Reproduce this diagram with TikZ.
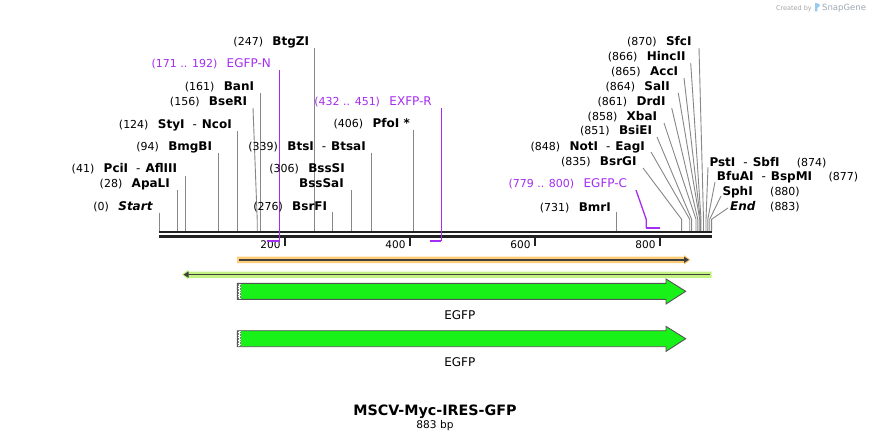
\documentclass[tikz,border=0pt]{standalone}
\usepackage{fontspec}
\setmainfont{DejaVu Sans}
\usetikzlibrary{arrows.meta}
\definecolor{purp}{RGB}{165,45,240}
\definecolor{seqc}{RGB}{34,34,34}
\definecolor{sitec}{RGB}{135,135,135}
\definecolor{orband}{RGB}{255,204,120}
\definecolor{grband}{RGB}{196,242,130}
\definecolor{featline}{RGB}{64,64,64}
\definecolor{egfpc}{RGB}{24,242,24}
\definecolor{egfpd}{RGB}{85,85,85}
\definecolor{sgblue}{RGB}{150,200,240}
\definecolor{sggray}{RGB}{160,168,180}
\newcommand\dsh{\hspace{8pt}{\mdseries -}\hspace{5pt}}
\tikzset{
  num/.style={font=\fontsize{11}{13}\selectfont, inner sep=0pt},
  nm/.style={font=\fontsize{12}{14}\selectfont\bfseries, inner sep=0pt},
  pnm/.style={font=\fontsize{12}{14}\selectfont, text=purp, inner sep=0pt},
  pnum/.style={num, text=purp},
  ticklab/.style={font=\fontsize{10.5}{12}\selectfont, inner sep=0pt},
  siteln/.style={draw=sitec, line width=0.9pt},
  primln/.style={draw=purp, line width=1.3pt},
  primbar/.style={draw=purp, line width=2pt},
  seqln/.style={draw=seqc},
  featarrow/.style={draw=egfpd, fill=egfpc, line width=0.9pt},
}
\newcommand\lablft[5]{%
  \node[nm, anchor=base east] (#1) at (#2,#3) {#5};
  \node[num, anchor=base east] (#1n) at ([xshift=-9pt]#1.base west) {#4};}
\newcommand\labprim[5]{%
  \node[pnm, anchor=base east] (#1) at (#2,#3) {#5};
  \node[pnum, anchor=base east] (#1n) at ([xshift=-9pt]#1.base west) {#4};}
\newcommand\labrt[6]{%
  \node[nm, anchor=base west] (#1) at (#2,#3) {#4};
  \node[num, anchor=base west] (#1n) at (#5,#3) {#6};}
% vertical site line: id, x, top y
\newcommand\vsite[3]{%
  \coordinate (#1t) at (#2,#3);
  \coordinate (#1s) at (#2,231.2);
  \draw[siteln] (#1t) -- (#1s);}
% bent site line: id, top x, top y, site x
\newcommand\bsite[4]{%
  \coordinate (#1t) at (#2,#3);
  \coordinate (#1b) at (#4,219.3);
  \coordinate (#1s) at (#4,231.2);
  \draw[siteln] (#1t) -- (#1b) -- (#1s);}
\begin{document}
\begin{tikzpicture}[x=1pt,y=-1pt]
\useasboundingbox (0,0) rectangle (872,441);
\fill[white] (0,0) rectangle (872,441);

% ---------- site lines ----------
\vsite{start}{159.7}{212.5}
\vsite{apa}{177.2}{190}
\vsite{pci}{185.3}{175.5}
\vsite{bmg}{218.5}{153}
\vsite{sty}{237.2}{131}
\bsite{bse}{253}{108}{257.2}
\vsite{ban}{260.3}{93}
\vsite{btg}{314.1}{48}
\vsite{bsr}{332.2}{212}
\vsite{bss}{351.0}{190}
\vsite{bts}{371.6}{153}
\vsite{pfo}{413.5}{130}
\vsite{bmr}{616.6}{212}
\bsite{bsrg}{643}{168}{681.6}
\bsite{not}{651}{152}{689.7}
\bsite{bsie}{657}{137}{691.6}
\bsite{xba}{664}{123}{696.0}
\bsite{drd}{671.7}{108}{697.8}
\bsite{sal}{678.3}{93}{699.7}
\bsite{acc}{684}{78}{700.3}
\bsite{hinc}{690.7}{63}{701.0}
\bsite{sfc}{699}{48}{703.5}
\bsite{pst}{708}{167}{706.0}
\bsite{bfu}{715}{182}{707.8}
\bsite{sph}{721}{196}{709.7}
\bsite{endl}{728}{208}{711.6}

% ---------- sequence line ----------
\coordinate (seqL) at (159,0);
\coordinate (seqR) at (712,0);
\draw[seqln, line width=2.4pt] (seqL |- 0,232.2) -- (seqR |- 0,232.2);
\draw[seqln, line width=2.6pt] (seqL |- 0,236.4) -- (seqR |- 0,236.4);
\foreach \v/\x in {200/284.7,400/409.7,600/534.7,800/659.7}{
  \draw[seqln, line width=2pt] (\x,237) -- (\x,245.5);
  \node[ticklab, anchor=base east] (tk\v) at ({\x-4},248.5) {\v};
}

% ---------- primers ----------
\coordinate (pNt) at (279.5,70);
\coordinate (pNb) at (279.5,240.6);
\draw[primln] (pNt) -- (pNb);
\draw[primbar] (266.6,240.6) -- (pNb);
\coordinate (pRt) at (441.4,108);
\coordinate (pRb) at (441.4,240.6);
\draw[primln] (pRt) -- (pRb);
\draw[primbar] (429.7,240.6) -- (pRb);
\coordinate (pCt) at (636,190);
\coordinate (pCm) at (646.2,219.3);
\coordinate (pCb) at (646.2,227.8);
\draw[primln] (pCt) -- (pCm) -- (pCb);
\draw[primbar] (pCb) -- (659.7,227.8);

% ---------- labels ----------
\lablft{startL}{152.7}{210.7}{(0)}{\itshape Start}
\lablft{apaL}{170}{187.7}{(28)}{ApaLI}
\lablft{pciL}{177.3}{172.7}{(41)}{PciI\dsh AflIII}
\lablft{bmgL}{212.3}{150.7}{(94)}{BmgBI}
\lablft{styL}{232}{128.3}{(124)}{StyI\dsh NcoI}
\lablft{bseL}{247.3}{105.7}{(156)}{BseRI}
\lablft{banL}{254.3}{91}{(161)}{BanI}
\lablft{btgL}{309.3}{46}{(247)}{BtgZI}
\lablft{pfoL}{410}{127.3}{(406)}{PfoI *}
\lablft{btsL}{366}{150.7}{(339)}{BtsI\dsh BtsaI}
\lablft{bssL}{345}{172.7}{(306)}{BssSI}
\node[nm, anchor=base east] (bssaL) at (344,187.7) {BssSaI};
\lablft{bsrL}{327.3}{210}{(276)}{BsrFI}
\lablft{bmrL}{611}{211}{(731)}{BmrI}
\lablft{bsrgL}{636.7}{165}{(835)}{BsrGI}
\lablft{notL}{645}{150}{(848)}{NotI\dsh EagI}
\lablft{bsieL}{652.3}{135}{(851)}{BsiEI}
\lablft{xbaL}{657.3}{120.7}{(858)}{XbaI}
\lablft{drdL}{665.7}{105.7}{(861)}{DrdI}
\lablft{salL}{670}{91}{(864)}{SalI}
\lablft{accL}{678.3}{76}{(865)}{AccI}
\lablft{hincL}{685.7}{60.7}{(866)}{HincII}
\lablft{sfcL}{691.7}{45.7}{(870)}{SfcI}
\labprim{egfpnL}{271}{67.3}{(171 .. 192)}{EGFP-N}
\labprim{exfprL}{432}{105.7}{(432 .. 451)}{EXFP-R}
\labprim{egfpcL}{627.3}{187.3}{(779 .. 800)}{EGFP-C}
\labrt{pstL}{709.3}{166}{PstI\dsh SbfI}{796.7}{(874)}
\labrt{bfuL}{716.7}{180.7}{BfuAI\dsh BspMI}{828.3}{(877)}
\labrt{sphL}{722.3}{195.7}{SphI}{770}{(880)}
\labrt{endL}{730}{210.7}{\itshape End}{770}{(883)}

% ---------- feature bands ----------
\fill[orband] (237,256.6) -- (684,256.6) -- (684,255) -- (690.5,259.8) -- (684,264.6) -- (684,263) -- (237,263) -- cycle;
\draw[featline, line width=1.6pt, -{Triangle[length=5pt,width=6pt]}] (239,259.8) -- (689,259.8);
\fill[grband] (711.5,271.5) -- (188,271.5) -- (188,270) -- (182,274.6) -- (188,279.2) -- (188,277.8) -- (711.5,277.8) -- cycle;
\draw[featline, line width=1.6pt, -{Triangle[length=5pt,width=6pt]}] (709.5,274.6) -- (183.5,274.6);

% ---------- EGFP arrows ----------
\foreach \yc/\i in {291.3/1,338.7/2}{
  \draw[featarrow] (237.3,{\yc-8}) -- (666,{\yc-8}) -- (666,{\yc-12.3}) -- (685.7,\yc) -- (666,{\yc+12.7}) -- (666,{\yc+8}) -- (237.3,{\yc+8}) -- cycle;
  \fill[white] (237.8,{\yc-7.5}) rectangle (241,{\yc+7.5});
  \draw[gray, line width=0.8pt, dash pattern=on 0.8pt off 0.8pt] (238.6,{\yc-7.5}) -- (238.6,{\yc+7.5});
  \draw[gray, line width=0.8pt, dash pattern=on 0.8pt off 0.8pt, dash phase=0.8pt] (240.2,{\yc-7.5}) -- (240.2,{\yc+7.5});
  \draw[egfpd, line width=0.9pt] (237.3,{\yc-8}) -- (237.3,{\yc+8});
}
\node[font=\fontsize{12}{14}\selectfont, anchor=base, inner sep=0pt] (egfp1) at (459.8,319.3) {EGFP};
\node[font=\fontsize{12}{14}\selectfont, anchor=base, inner sep=0pt] (egfp2) at (459.8,366) {EGFP};

% ---------- title ----------
\node[font=\fontsize{14.3}{16}\selectfont\bfseries, anchor=base, inner sep=0pt] (title) at (435,415) {MSCV-Myc-IRES-GFP};
\node[font=\fontsize{10.6}{12}\selectfont, anchor=base, inner sep=0pt] (bp) at (435,428.5) {883 bp};

% ---------- watermark ----------
\node[font=\fontsize{6.5}{8}\selectfont, text=black!35, anchor=base east, inner sep=0pt] (cby) at (812,10.5) {Created by};
\fill[sgblue] (815,11.5) -- (815,3) .. controls (820.5,3) and (821.5,6.5) .. (817.3,7.8) -- (817.3,11.5) -- cycle;
\node[font=\fontsize{8.5}{10}\selectfont, text=sggray, anchor=base west, inner sep=0pt] (sg) at (822,11) {SnapGene};
\end{tikzpicture}
\end{document}
